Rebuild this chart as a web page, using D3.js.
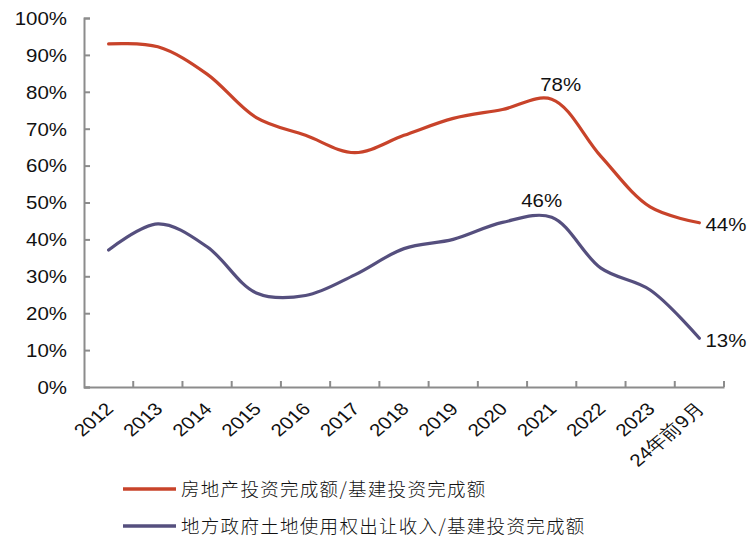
<!DOCTYPE html>
<html><head><meta charset="utf-8">
<script src="https://cdn.jsdelivr.net/npm/d3@7"></script>
<style>
body{margin:0;background:#fff;}
text{font-family:"Liberation Sans",Arial,sans-serif;fill:#111;}
</style></head>
<body><svg id="c" width="749" height="539"></svg>
<script>
const categories = ["2012","2013","2014","2015","2016","2017","2018","2019","2020","2021","2022","2023","24年前9月"];
const realEstate = [93.0, 92.2, 84.8, 73.0, 68.2, 63.5, 68.2, 72.8, 75.2, 78.0, 62.5, 48.8, 44.5];
const landSales  = [37.1, 44.2, 38.0, 25.5, 24.8, 30.4, 37.5, 40.0, 44.6, 46.0, 32.2, 26.3, 13.2];
const yTicks = [0,10,20,30,40,50,60,70,80,90,100];
const seriesNames = ["房地产投资完成额/基建投资完成额","地方政府土地使用权出让收入/基建投资完成额"];
const colors = ["#C8432A","#554F7E"];

const svg = d3.select("#c");
const SX = 1.17; // horizontal stretch of text in the reference
const x = d3.scaleBand().domain(categories).range([84, 724]);
const y = d3.scaleLinear().domain([0,100]).range([387, 18]);

const axisColor = "#8c8c8c";
const yAxis = svg.append("g").attr("transform","translate(84,0)")
  .call(d3.axisLeft(y).tickValues(yTicks).tickSize(-6).tickFormat(d=>d+"%"));
yAxis.select(".domain").attr("stroke",axisColor).attr("stroke-width",2);
yAxis.selectAll(".tick line").attr("stroke",axisColor).attr("stroke-width",2);
yAxis.selectAll(".tick text").attr("font-size",17.5).attr("fill","#111")
  .attr("x",-17/SX).attr("dy","0.36em").attr("transform",`scale(${SX},1)`)
  .style("font-family","'Liberation Sans', Arial, sans-serif");

const xAxis = svg.append("g").attr("transform","translate(0,387)")
  .call(d3.axisBottom(x).tickSize(0).tickFormat(d=>d));
xAxis.select(".domain").attr("stroke",axisColor).attr("stroke-width",2);
const bounds = categories.map(c=>x(c)+x.bandwidth());
xAxis.selectAll(".bt").data(bounds).enter().append("line")
  .attr("x1",d=>d).attr("x2",d=>d).attr("y1",0).attr("y2",-6)
  .attr("stroke",axisColor).attr("stroke-width",2);
xAxis.selectAll(".tick text")
  .attr("font-size",17.5).attr("fill","#111")
  .attr("text-anchor","end").attr("y",0).attr("dy",0)
  .attr("transform",`translate(6,23) scale(${SX},1) rotate(-45)`)
  .style("font-family","'Liberation Sans', Arial, sans-serif");

const cx = c => x(c) + x.bandwidth()/2;
const line = d3.line().x((d,i)=>cx(categories[i])).y(d=>y(d)).curve(d3.curveCatmullRom.alpha(0.5));
[realEstate, landSales].forEach((s,k)=>{
  svg.append("path").attr("d",line(s)).attr("fill","none")
    .attr("stroke",colors[k]).attr("stroke-width",3.2).attr("stroke-linecap","round");
});

const last = categories.length-1;
const lbl = (t,xx,yy,anchor)=>svg.append("text").text(t)
  .attr("transform",`translate(${xx},${yy}) scale(${SX},1)`)
  .attr("font-size",17.5).attr("text-anchor",anchor||"middle");
lbl(Math.floor(realEstate[9])+"%", cx(categories[9])+9, y(realEstate[9])-8);
lbl(Math.floor(landSales[9])+"%", cx(categories[9])-10, y(landSales[9])-10);
lbl(Math.floor(realEstate[last])+"%", cx(categories[last])+6, y(realEstate[last])+8, "start");
lbl(Math.floor(landSales[last])+"%", cx(categories[last])+6, y(landSales[last])+9, "start");

seriesNames.forEach((n,k)=>{
  const ly = 489 + k*37;
  svg.append("line").attr("x1",123).attr("x2",176).attr("y1",ly).attr("y2",ly)
    .attr("stroke",colors[k]).attr("stroke-width",3.5);
  svg.append("text").text(n).attr("x",181).attr("y",ly+6.5).attr("font-size",18.5)
    .attr("letter-spacing","1.3px")
    .style("font-family","'Noto Sans CJK SC', sans-serif").style("font-weight",300);
});
</script></body></html>
